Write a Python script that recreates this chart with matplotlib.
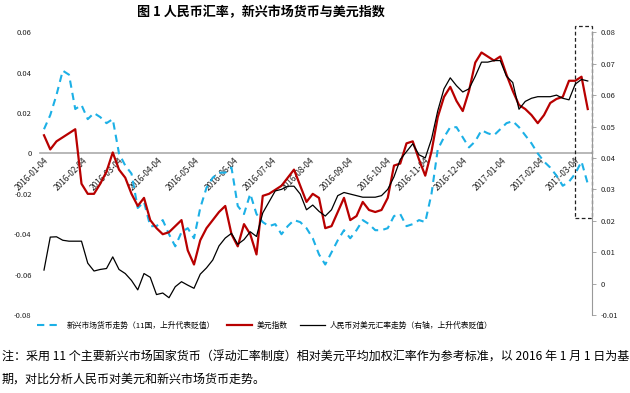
import pandas as pd
import numpy as np
import matplotlib
matplotlib.use('Agg')
import matplotlib.pyplot as plt
import matplotlib.dates as mdates
from matplotlib.patches import Rectangle

plt.rcParams['font.family'] = ['Noto Sans CJK SC', 'DejaVu Sans']
plt.rcParams['axes.unicode_minus'] = False

# 5-day sampled observations from 2016-01-04
dates = pd.date_range('2016-01-04', periods=88, freq='5D')

em_fx = [0.012, 0.019, 0.029, 0.041, 0.039, 0.022, 0.024, 0.017, 0.020, 0.018,
         0.015, 0.017, 0.000, -0.006, -0.010, -0.027, -0.024, -0.036, -0.036, -0.033,
         -0.040, -0.046, -0.039, -0.037, -0.042, -0.027, -0.017, -0.012, -0.0095, -0.0095,
         -0.007, -0.026, -0.030, -0.020, -0.030, -0.034, -0.036, -0.035, -0.040, -0.036,
         -0.033, -0.034, -0.037, -0.042, -0.050, -0.055, -0.049, -0.043, -0.038, -0.042,
         -0.038, -0.033, -0.035, -0.038, -0.038, -0.037, -0.031, -0.030, -0.036, -0.035,
         -0.033, -0.034, -0.020, 0.002, 0.008, 0.013, 0.013, 0.008, 0.003, 0.006,
         0.0115, 0.010, 0.009, 0.012, 0.015, 0.016, 0.013, 0.009, 0.005, 0.000,
         -0.004, -0.007, -0.011, -0.016, -0.014, -0.010, -0.004, -0.015]

usd_index = [0.009, 0.002, 0.006, 0.008, 0.010, 0.012, -0.015, -0.020, -0.020, -0.015,
             -0.009, 0.0005, -0.008, -0.012, -0.020, -0.026, -0.022, -0.033, -0.037, -0.040,
             -0.039, -0.036, -0.033, -0.048, -0.055, -0.043, -0.037, -0.033, -0.029, -0.026,
             -0.040, -0.046, -0.035, -0.040, -0.050, -0.021, -0.020, -0.018, -0.016, -0.012,
             -0.008, -0.016, -0.024, -0.020, -0.022, -0.037, -0.036, -0.029, -0.022, -0.033,
             -0.031, -0.024, -0.028, -0.029, -0.028, -0.022, -0.006, -0.005, 0.005, 0.006,
             -0.003, -0.011, 0.001, 0.018, 0.028, 0.033, 0.026, 0.021, 0.031, 0.045,
             0.050, 0.048, 0.046, 0.048, 0.039, 0.031, 0.024, 0.022, 0.019, 0.015,
             0.019, 0.025, 0.027, 0.028, 0.036, 0.036, 0.038, 0.022]

cny_usd = [0.0043, 0.0148, 0.0149, 0.0138, 0.0135, 0.0135, 0.0135, 0.0065, 0.0040, 0.0045,
           0.0048, 0.0085, 0.0045, 0.0032, 0.0010, -0.0020, 0.0032, 0.0020, -0.0035, -0.0030,
           -0.0045, -0.0010, 0.0006, -0.0005, -0.0015, 0.0030, 0.0050, 0.0075, 0.0120, 0.0145,
           0.0160, 0.0125, 0.0140, 0.0165, 0.0150, 0.0225, 0.0260, 0.0295, 0.0300, 0.0310,
           0.0310, 0.0285, 0.0235, 0.0250, 0.0230, 0.0215, 0.0235, 0.0280, 0.0290, 0.0285,
           0.0280, 0.0275, 0.0275, 0.0275, 0.0280, 0.0300, 0.0340, 0.0395, 0.0420, 0.0445,
           0.0410, 0.0400, 0.0460, 0.0550, 0.0620, 0.0655, 0.0630, 0.0610, 0.0620, 0.0660,
           0.0705, 0.0705, 0.0710, 0.0710, 0.0660, 0.0640, 0.0555, 0.0580, 0.0590, 0.0595,
           0.0595, 0.0595, 0.0600, 0.0590, 0.0585, 0.0635, 0.0650, 0.0645]

tick_dates = pd.date_range('2016-01-01', '2017-03-01', freq='MS') + pd.Timedelta(days=3)
left_ticks = [-0.08, -0.06, -0.04, -0.02, 0, 0.02, 0.04, 0.06]
left_labels = ['-0.08', '-0.06', '-0.04', '-0.02', '0', '0.02', '0.04', '0.06']
right_ticks = [-0.01, 0, 0.01, 0.02, 0.03, 0.04, 0.05, 0.06, 0.07, 0.08]
right_labels = ['-0.01', '0', '0.01', '0.02', '0.03', '0.04', '0.05', '0.06', '0.07', '0.08']

names = ['新兴市场货币走势（11国，上升代表贬值）', '美元指数', '人民币对美元汇率走势（右轴，上升代表贬值）']

fig = plt.figure(figsize=(6.3, 3.93), dpi=100)
ax = fig.add_axes([40 / 630, 1 - 315 / 393, 552 / 630, 282.7 / 393])
ax2 = ax.twinx()

start = pd.Timestamp('2016-01-04')
ax.set_xlim(start - pd.Timedelta(days=3.2), start + pd.Timedelta(days=438.4))
ax.set_ylim(-0.08, 0.06)
ax2.set_ylim(-0.01, 0.08)

l1, = ax.plot(dates, em_fx, color='#1CB0E6', lw=1.5, ls=(0, (3.5, 2.5)), label=names[0])
l2, = ax.plot(dates, usd_index, color='#B80000', lw=1.6, label=names[1])
l3, = ax2.plot(dates, cny_usd, color='black', lw=0.9, label=names[2])

# x axis sits on the zero line
for s in ['top', 'left', 'right']:
    ax.spines[s].set_visible(False)
ax.spines['bottom'].set_position(('data', 0))
ax.spines['bottom'].set_color('#ABABAB')
ax.spines['bottom'].set_linewidth(1.2)
ax.spines['bottom'].set_zorder(1)

ax.set_xticks(tick_dates)
ax.xaxis.set_major_formatter(mdates.DateFormatter('%Y-%m-%d'))
ax.tick_params(axis='x', length=0, pad=2, labelsize=6, colors='#222222')
for lab in ax.get_xticklabels():
    lab.set_rotation(45)
    lab.set_ha('right')
    lab.set_va('top')
    lab.set_rotation_mode('anchor')

ax.set_yticks(left_ticks)
ax.set_yticklabels(left_labels)
ax.tick_params(axis='y', length=0, pad=6, labelsize=5.5, colors='#222222')

for s in ['top', 'left', 'bottom']:
    ax2.spines[s].set_visible(False)
ax2.spines['right'].set_color('#999999')
ax2.spines['right'].set_linewidth(0.8)
ax2.set_yticks(right_ticks)
ax2.set_yticklabels(right_labels)
ax2.tick_params(axis='y', length=3, width=0.6, color='#999999', pad=3,
                labelsize=5.5, labelcolor='#222222')

# highlight box at the end of the period
box_x0 = mdates.date2num(start + pd.Timedelta(days=424.8))
box_x1 = mdates.date2num(start + pd.Timedelta(days=438.4))
ax.add_patch(Rectangle((box_x0, -0.0319), box_x1 - box_x0, 0.0951, fill=False,
                       ec='#222222', lw=0.9, ls=(0, (3, 2)), clip_on=False, zorder=5))

fig.legend([l1, l2, l3], names, loc='center', bbox_to_anchor=(265 / 630, 1 - 326 / 393),
           ncol=3, frameon=False, fontsize=5.6, handlelength=3.2, columnspacing=1.6,
           handletextpad=0.6)

fig.text(261 / 630, 1 - 12 / 393, '图 1 人民币汇率，新兴市场货币与美元指数',
         ha='center', va='center', fontsize=9.4, fontweight='bold')
fig.text(2 / 630, 1 - 357 / 393,
         '注：采用 11 个主要新兴市场国家货币（浮动汇率制度）相对美元平均加权汇率作为参考标准，以 2016 年 1 月 1 日为基',
         ha='left', va='center', fontsize=8.65)
fig.text(2 / 630, 1 - 379 / 393, '期，对比分析人民币对美元和新兴市场货币走势。',
         ha='left', va='center', fontsize=8.65)

fig.savefig('out.png', dpi=100)
